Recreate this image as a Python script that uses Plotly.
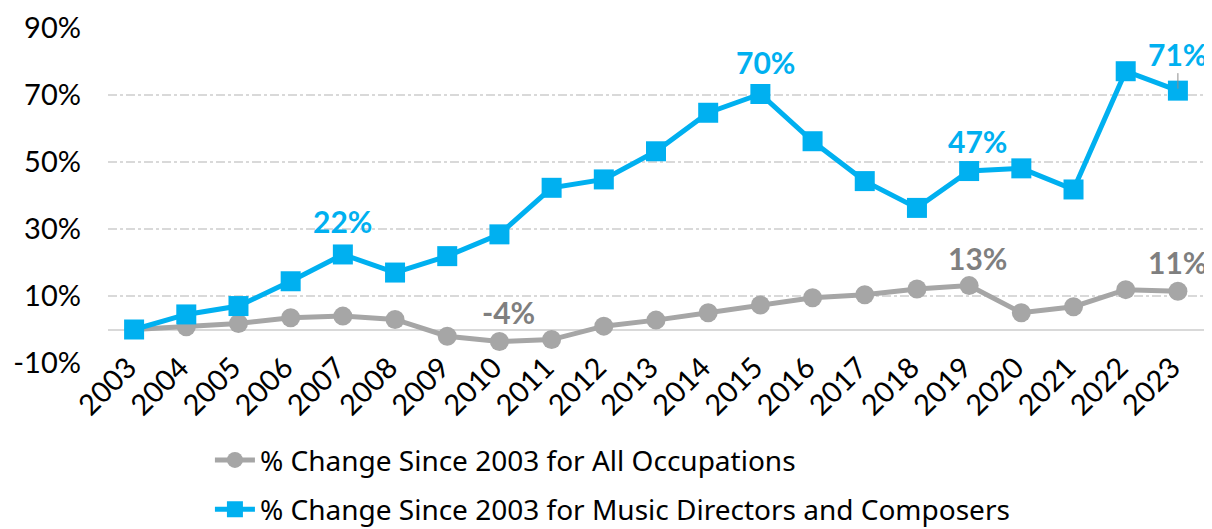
import plotly.graph_objects as go

years = [str(y) for y in range(2003, 2024)]
all_occ = [0, 0.8, 1.8, 3.5, 4.0, 3.0, -2.0, -3.6, -3.0, 1.0, 2.8, 5.0, 7.3, 9.5, 10.4, 12.1, 13.1, 5.0, 6.8, 11.9, 11.4]
music = [0, 4.5, 7.0, 14.4, 22.4, 17.0, 21.9, 28.4, 42.3, 44.8, 53.2, 64.7, 70.3, 56.2, 44.3, 36.3, 47.3, 48.1, 41.8, 77.1, 71.3]
y_ticks = [-10, 10, 30, 50, 70, 90]

name_all = "% Change Since 2003 for All Occupations"
name_music = "% Change Since 2003 for Music Directors and Composers"

BLUE = "#00B0F0"
GRAY = "#A6A6A6"
LABEL_GRAY = "#7F7F7F"
FONT = "Lato, 'Noto Sans', sans-serif"

fig = go.Figure()
fig.add_trace(go.Scatter(x=years, y=all_occ, name=name_all, mode="lines+markers",
                         legendgroup="a",
                         line=dict(color=GRAY, width=5),
                         marker=dict(symbol="circle", size=19, color=GRAY)))
fig.add_trace(go.Scatter(x=years, y=music, name=name_music, mode="lines+markers",
                         legendgroup="b",
                         line=dict(color=BLUE, width=5),
                         marker=dict(symbol="square", size=20, color=BLUE)))

# labelled points: (series, year, yshift, xshift, arrow, colour)
labels = [
    (music, "2007", 33, 0, False, BLUE),
    (music, "2015", 32, 5, False, BLUE),
    (music, "2019", 30, 8, False, BLUE),
    (music, "2023", 37, 0, True, BLUE),
    (all_occ, "2010", 30, 9, False, LABEL_GRAY),
    (all_occ, "2019", 28, 8, False, LABEL_GRAY),
    (all_occ, "2023", 29, 0, False, LABEL_GRAY),
]
for series, yr, ys, xs, arrow, col in labels:
    i = years.index(yr)
    v = series[i]
    txt = f"<b>{round(v)}%</b>"
    if arrow:
        fig.add_annotation(x=i, y=v, text=txt, showarrow=True, ax=0, ay=-ys,
                           arrowhead=0, arrowwidth=1, arrowcolor="#8C8C8C", standoff=2,
                           font=dict(family=FONT, size=30, color=col))
    else:
        fig.add_annotation(x=i, y=v, text=txt, showarrow=False, yshift=ys, xshift=xs,
                           font=dict(family=FONT, size=30, color=col))

fig.update_layout(
    width=1204, height=521,
    margin=dict(l=100, r=8, t=20, b=166),
    plot_bgcolor="white", paper_bgcolor="white",
    font=dict(family=FONT, color="#000000"),
    showlegend=True,
    legend=dict(orientation="v", xref="paper", x=0.093, xanchor="left",
                yref="container", y=0.18, yanchor="top",
                font=dict(family="'Noto Sans', sans-serif", size=28, color="#000"),
                itemwidth=40, tracegroupgap=10, bgcolor="rgba(0,0,0,0)"),
)
fig.update_xaxes(type="category", range=[-0.5, len(years) - 0.5], tickangle=-45,
                 anchor="free", position=0.057, automargin=False, ticklabelshift=-6,
                 showgrid=False, showline=False,
                 tickfont=dict(family=FONT, size=29, color="#000"), ticks="")
fig.update_yaxes(range=[-10, 90], tickvals=y_ticks, ticktext=[f"{t}%" for t in y_ticks],
                 automargin=False,
                 showgrid=True, gridcolor="#D9D9D9", griddash="dashdot", gridwidth=1.5,
                 zeroline=True, zerolinecolor="#D9D9D9", zerolinewidth=2,
                 showline=False, ticklabelstandoff=26,
                 tickfont=dict(family=FONT, size=29, color="#000"))

fig.write_html("out.html")
